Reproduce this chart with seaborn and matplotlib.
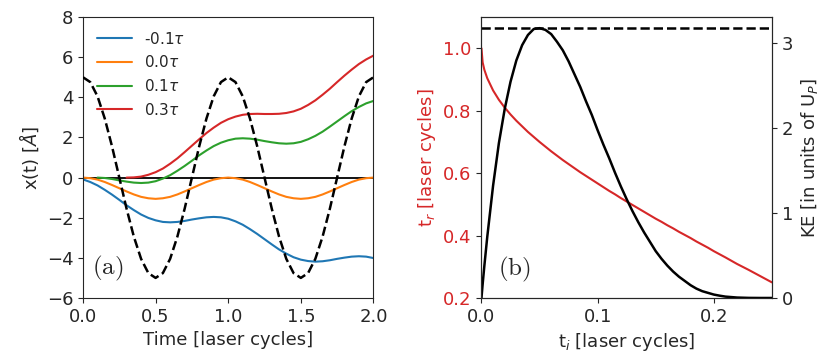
import numpy as np
import pandas as pd
import seaborn as sns
import matplotlib
matplotlib.use('Agg')
import matplotlib.pyplot as plt

# --- left panel: electron trajectories in the laser field ---
t_cycles = [0.0, 0.05, 0.1, 0.15, 0.2, 0.25, 0.3, 0.35, 0.4, 0.45,
            0.5, 0.55, 0.6, 0.65, 0.7, 0.75, 0.8, 0.85, 0.9, 0.95,
            1.0, 1.05, 1.1, 1.15, 1.2, 1.25, 1.3, 1.35, 1.4, 1.45,
            1.5, 1.55, 1.6, 1.65, 1.7, 1.75, 1.8, 1.85, 1.9, 1.95, 2.0]

laser_field = [5.0, 4.76, 4.05, 2.94, 1.55, 0.0, -1.55, -2.94, -4.05, -4.76,
               -5.0, -4.76, -4.05, -2.94, -1.55, 0.0, 1.55, 2.94, 4.05, 4.76,
               5.0, 4.76, 4.05, 2.94, 1.55, 0.0, -1.55, -2.94, -4.05, -4.76,
               -5.0, -4.76, -4.05, -2.94, -1.55, 0.0, 1.55, 2.94, 4.05, 4.76, 5.0]

x_m01 = [-0.09, -0.22, -0.39, -0.61, -0.85, -1.11, -1.38, -1.62, -1.84, -2.01,
         -2.13, -2.21, -2.23, -2.21, -2.16, -2.09, -2.03, -1.98, -1.96, -1.98,
         -2.05, -2.18, -2.35, -2.57, -2.81, -3.07, -3.33, -3.58, -3.79, -3.97,
         -4.09, -4.16, -4.19, -4.17, -4.12, -4.05, -3.99, -3.94, -3.92, -3.94, -4.01]

x_00 = [0.0, -0.03, -0.10, -0.22, -0.37, -0.53, -0.69, -0.84, -0.96, -1.03,
        -1.06, -1.03, -0.96, -0.84, -0.69, -0.53, -0.37, -0.22, -0.10, -0.03,
        0.0, -0.03, -0.10, -0.22, -0.37, -0.53, -0.69, -0.84, -0.96, -1.03,
        -1.06, -1.03, -0.96, -0.84, -0.69, -0.53, -0.37, -0.22, -0.10, -0.03, 0.0]

# starts at t = 0.1
x_01 = [0.0, -0.02, -0.07, -0.14, -0.20, -0.25, -0.27, -0.25,
        -0.18, -0.05, 0.12, 0.34, 0.58, 0.84, 1.11, 1.35, 1.57, 1.74,
        1.86, 1.94, 1.96, 1.94, 1.89, 1.82, 1.76, 1.71, 1.69, 1.71,
        1.78, 1.91, 2.08, 2.29, 2.54, 2.80, 3.06, 3.31, 3.52, 3.70, 3.82]

# starts at t = 0.3
x_03 = [0.0, 0.01, 0.05, 0.14,
        0.27, 0.45, 0.69, 0.96, 1.27, 1.59, 1.91, 2.22, 2.49, 2.73,
        2.91, 3.04, 3.13, 3.17, 3.18, 3.17, 3.17, 3.18, 3.22, 3.30,
        3.43, 3.62, 3.85, 4.13, 4.43, 4.76, 5.08, 5.38, 5.66, 5.89, 6.08]

traj_labels = [r'-0.1$\tau$', r'0.0$\tau$', r'0.1$\tau$', r'0.3$\tau$']

# --- right panel: return time and kinetic energy vs ionisation time ---
t_ion = [0.0, 0.001, 0.0025, 0.005, 0.01, 0.015, 0.02, 0.025, 0.03, 0.035,
         0.04, 0.045, 0.05, 0.055, 0.06, 0.065, 0.07, 0.075, 0.08, 0.085,
         0.09, 0.095, 0.10, 0.105, 0.11, 0.115, 0.12, 0.125, 0.13, 0.135,
         0.14, 0.145, 0.15, 0.155, 0.16, 0.165, 0.17, 0.175, 0.18, 0.185,
         0.19, 0.195, 0.20, 0.205, 0.21, 0.22, 0.23, 0.24, 0.25]
t_ret = [1.0, 0.955, 0.931, 0.904, 0.865, 0.835, 0.810, 0.788, 0.768, 0.750,
         0.732, 0.716, 0.700, 0.685, 0.670, 0.656, 0.642, 0.629, 0.616, 0.603,
         0.591, 0.579, 0.567, 0.555, 0.543, 0.532, 0.520, 0.509, 0.498, 0.487,
         0.476, 0.465, 0.454, 0.444, 0.433, 0.423, 0.412, 0.402, 0.392, 0.381,
         0.371, 0.361, 0.350, 0.340, 0.330, 0.309, 0.290, 0.270, 0.250]
kin_en = [0.0, 0.16, 0.38, 0.72, 1.32, 1.82, 2.22, 2.54, 2.79, 2.97,
          3.09, 3.16, 3.17, 3.15, 3.10, 3.01, 2.91, 2.78, 2.63, 2.48,
          2.31, 2.15, 1.97, 1.80, 1.64, 1.47, 1.31, 1.16, 1.02, 0.89,
          0.77, 0.66, 0.55, 0.46, 0.38, 0.31, 0.25, 0.20, 0.15, 0.11,
          0.08, 0.06, 0.04, 0.027, 0.016, 0.005, 0.001, 0.0, 0.0]
ke_cutoff = 3.17

sns.set_style('ticks')
plt.rcParams['font.family'] = ['DejaVu Sans']
plt.rcParams['font.size'] = 13
plt.rcParams['mathtext.fontset'] = 'dejavusans'

fig, (ax1, ax2) = plt.subplots(1, 2, figsize=(8.3, 3.56), dpi=100)
fig.subplots_adjust(left=0.1, right=0.93, bottom=0.163, top=0.952, wspace=0.372)

red = '#d62728'
ax1.axhline(0, color='black', lw=1.3, zorder=1)
sns.lineplot(x=t_cycles, y=laser_field, ax=ax1, color='black', lw=1.8,
             linestyle='--', zorder=3)
sns.lineplot(x=t_cycles, y=x_m01, ax=ax1, color='#1f77b4', lw=1.5, label=traj_labels[0])
sns.lineplot(x=t_cycles, y=x_00, ax=ax1, color='#ff7f0e', lw=1.5, label=traj_labels[1])
sns.lineplot(x=t_cycles[2:], y=x_01, ax=ax1, color='#2ca02c', lw=1.5, label=traj_labels[2])
sns.lineplot(x=t_cycles[6:], y=x_03, ax=ax1, color=red, lw=1.5, label=traj_labels[3])
ax1.set_xlim(0, 2)
ax1.set_ylim(-6, 8)
ax1.set_xticks([0.0, 0.5, 1.0, 1.5, 2.0])
ax1.set_yticks([-6, -4, -2, 0, 2, 4, 6, 8])
ax1.set_xlabel('Time [laser cycles]')
ax1.set_ylabel(r'x(t) [$\AA$]')
ax1.legend(loc='upper left', frameon=False, fontsize=11, handlelength=2.3)
ax1.text(0.03, 0.105, r'$\mathrm{(a)}$', transform=ax1.transAxes, fontsize=18,
         math_fontfamily='cm', va='center', ha='left')

sns.lineplot(x=t_ion, y=t_ret, ax=ax2, color=red, lw=1.5)
ax2.set_xlim(0, 0.25)
ax2.set_ylim(0.2, 1.1)
ax2.set_xticks([0.0, 0.1, 0.2])
ax2.set_yticks([0.2, 0.4, 0.6, 0.8, 1.0])
ax2.set_xlabel(r't$_i$ [laser cycles]')
ax2.set_ylabel(r't$_r$ [laser cycles]', color=red)
ax2.tick_params(axis='y', labelcolor=red)
ax2.text(0.058, 0.1, r'$\mathrm{(b)}$', transform=ax2.transAxes, fontsize=18,
         math_fontfamily='cm', va='center', ha='left')

ax3 = ax2.twinx()
sns.lineplot(x=t_ion, y=kin_en, ax=ax3, color='black', lw=1.8)
ax3.axhline(ke_cutoff, color='black', lw=1.8, linestyle='--')
ax3.set_ylim(0, 3.3)
ax3.set_yticks([0, 1, 2, 3])
ax3.set_ylabel(r'KE [in units of U$_P$]')

fig.savefig('out.png', dpi=100)
